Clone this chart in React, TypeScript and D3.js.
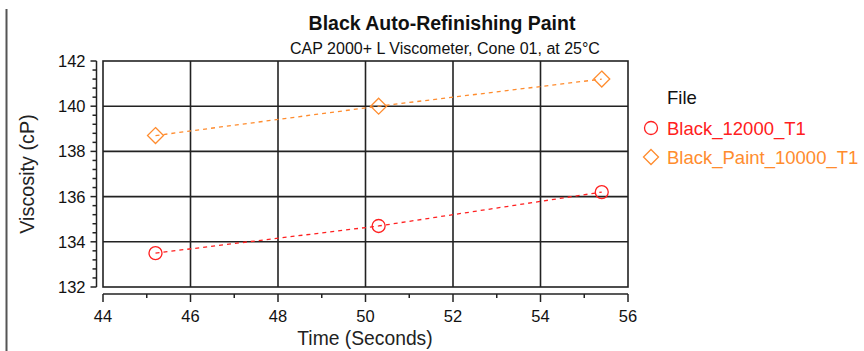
import React, { useEffect, useRef } from 'react';
import * as d3 from 'd3';

const title = 'Black Auto-Refinishing Paint';
const subtitle = 'CAP 2000+ L Viscometer, Cone 01, at 25°C';
const seriesNames = ['Black_12000_T1', 'Black_Paint_10000_T1'];
const seriesColors = ['#ff2020', '#ff8c2e'];
const timeValues = [45.2, 50.3, 55.4];
const blackValues = [133.5, 134.7, 136.2];
const paintValues = [138.7, 140.0, 141.2];
const xTicks = [44, 46, 48, 50, 52, 54, 56];
const yTicks = [132, 134, 136, 138, 140, 142];

const App = () => {
  const ref = useRef<SVGSVGElement>(null);

  useEffect(() => {
    const W = 864, H = 351;
    const m = { left: 103, right: 628, top: 61, bottom: 287 };
    const font = '"Liberation Sans", Arial, sans-serif';

    const svg = d3.select(ref.current);
    svg.selectAll('*').remove();

    const x = d3.scaleLinear().domain([44, 56]).range([m.left, m.right]);
    const y = d3.scaleLinear().domain([132, 142]).range([m.bottom, m.top]);

    svg.append('rect').attr('width', W).attr('height', H).attr('fill', '#fff');

    // left border line of the panel
    svg.append('line')
      .attr('x1', 6.5).attr('x2', 6.5).attr('y1', 9).attr('y2', H)
      .attr('stroke', '#555').attr('stroke-width', 2);

    // titles
    svg.append('text')
      .attr('x', 442).attr('y', 30)
      .attr('text-anchor', 'middle')
      .style('font-family', font).style('font-weight', 'bold').style('font-size', '19.5px')
      .attr('fill', '#111')
      .text(title);
    svg.append('text')
      .attr('x', 445).attr('y', 54)
      .attr('text-anchor', 'middle')
      .style('font-family', font).style('font-size', '16px')
      .attr('fill', '#111')
      .text(subtitle);

    // grid
    const grid = svg.append('g').attr('stroke', '#222').attr('stroke-width', 1.6);
    grid.selectAll('.vx')
      .data(xTicks.slice(1, -1))
      .enter().append('line')
      .attr('x1', d => x(d)).attr('x2', d => x(d))
      .attr('y1', m.top).attr('y2', m.bottom);
    grid.selectAll('.hy')
      .data(yTicks.slice(1, -1))
      .enter().append('line')
      .attr('y1', d => y(d)).attr('y2', d => y(d))
      .attr('x1', m.left).attr('x2', m.right);
    grid.append('rect')
      .attr('x', m.left).attr('y', m.top)
      .attr('width', m.right - m.left).attr('height', m.bottom - m.top)
      .attr('fill', 'none');

    // y axis (offset to the left)
    const yAxisX = 96.5;
    const yAx = svg.append('g').attr('stroke', '#222').attr('stroke-width', 1.5);
    yAx.append('line').attr('x1', yAxisX).attr('x2', yAxisX).attr('y1', y(142)).attr('y2', y(132));
    yAx.selectAll('.minor')
      .data(d3.range(132, 142.01, 0.4))
      .enter().append('line')
      .attr('x1', d => (Math.abs(d - Math.round(d / 2) * 2) < 0.01 ? yAxisX - 6 : yAxisX - 4))
      .attr('x2', yAxisX)
      .attr('y1', d => y(d)).attr('y2', d => y(d));
    svg.selectAll('.ylab')
      .data(yTicks)
      .enter().append('text')
      .attr('x', yAxisX - 11).attr('y', d => y(d)).attr('dy', '0.36em')
      .attr('text-anchor', 'end')
      .style('font-family', font).style('font-size', '16.5px')
      .attr('fill', '#111')
      .text(d => d);

    // x axis (offset below)
    const xAxisY = 294;
    const xAx = svg.append('g').attr('stroke', '#222').attr('stroke-width', 1.5);
    xAx.append('line').attr('x1', x(44)).attr('x2', x(56)).attr('y1', xAxisY).attr('y2', xAxisY);
    xAx.selectAll('.xt')
      .data(d3.range(44, 56.01, 1))
      .enter().append('line')
      .attr('x1', d => x(d)).attr('x2', d => x(d))
      .attr('y1', xAxisY)
      .attr('y2', d => (d % 2 === 0 ? xAxisY + 8 : xAxisY + 4));
    svg.selectAll('.xlab')
      .data(xTicks)
      .enter().append('text')
      .attr('x', d => x(d)).attr('y', 322)
      .attr('text-anchor', 'middle')
      .style('font-family', font).style('font-size', '16.5px')
      .attr('fill', '#111')
      .text(d => d);

    // axis titles
    svg.append('text')
      .attr('x', 365).attr('y', 345)
      .attr('text-anchor', 'middle')
      .style('font-family', font).style('font-size', '19.3px')
      .attr('fill', '#222')
      .text('Time (Seconds)');
    svg.append('text')
      .attr('transform', 'translate(34,174) rotate(-90)')
      .attr('text-anchor', 'middle')
      .style('font-family', font).style('font-size', '19.8px')
      .attr('fill', '#222')
      .text('Viscosity (cP)');

    // series
    const series = [blackValues, paintValues];
    const line = d3.line<number>()
      .x((d, i) => x(timeValues[i]))
      .y(d => y(d));
    const diamond = (s: number) => `M0,${-s}L${s},0L0,${s}L${-s},0Z`;

    series.forEach((vals, si) => {
      const c = seriesColors[si];
      svg.append('path')
        .attr('d', line(vals))
        .attr('fill', 'none')
        .attr('stroke', c)
        .attr('stroke-width', 1.3)
        .attr('stroke-dasharray', '4,4');
      const pts = svg.selectAll(`.pt${si}`)
        .data(vals)
        .enter().append('g')
        .attr('transform', (d, i) => `translate(${x(timeValues[i])},${y(d)})`);
      if (si === 0) {
        pts.append('circle').attr('r', 6.5).attr('fill', 'none').attr('stroke', c).attr('stroke-width', 1.3);
      } else {
        pts.append('path').attr('d', diamond(8)).attr('fill', 'none').attr('stroke', c).attr('stroke-width', 1.3);
      }
    });

    // legend
    svg.append('text')
      .attr('x', 667).attr('y', 104)
      .style('font-family', font).style('font-size', '18.5px')
      .attr('fill', '#111')
      .text('File');
    seriesNames.forEach((name, i) => {
      const ly = 128 + i * 29;
      const c = seriesColors[i];
      if (i === 0) {
        svg.append('circle').attr('cx', 651).attr('cy', ly).attr('r', 6.5)
          .attr('fill', 'none').attr('stroke', c).attr('stroke-width', 1.3);
      } else {
        svg.append('path').attr('transform', `translate(651,${ly})`).attr('d', diamond(7.5))
          .attr('fill', 'none').attr('stroke', c).attr('stroke-width', 1.3);
      }
      svg.append('text')
        .attr('x', 667).attr('y', ly).attr('dy', '0.36em')
        .style('font-family', font).style('font-size', '18.5px')
        .attr('fill', c)
        .text(name);
    });
  }, []);

  return (
    <div style={{ position: 'fixed', left: 0, top: 0 }}>
      <svg ref={ref} width={864} height={351} style={{ display: 'block' }} />
    </div>
  );
};

export default App;
